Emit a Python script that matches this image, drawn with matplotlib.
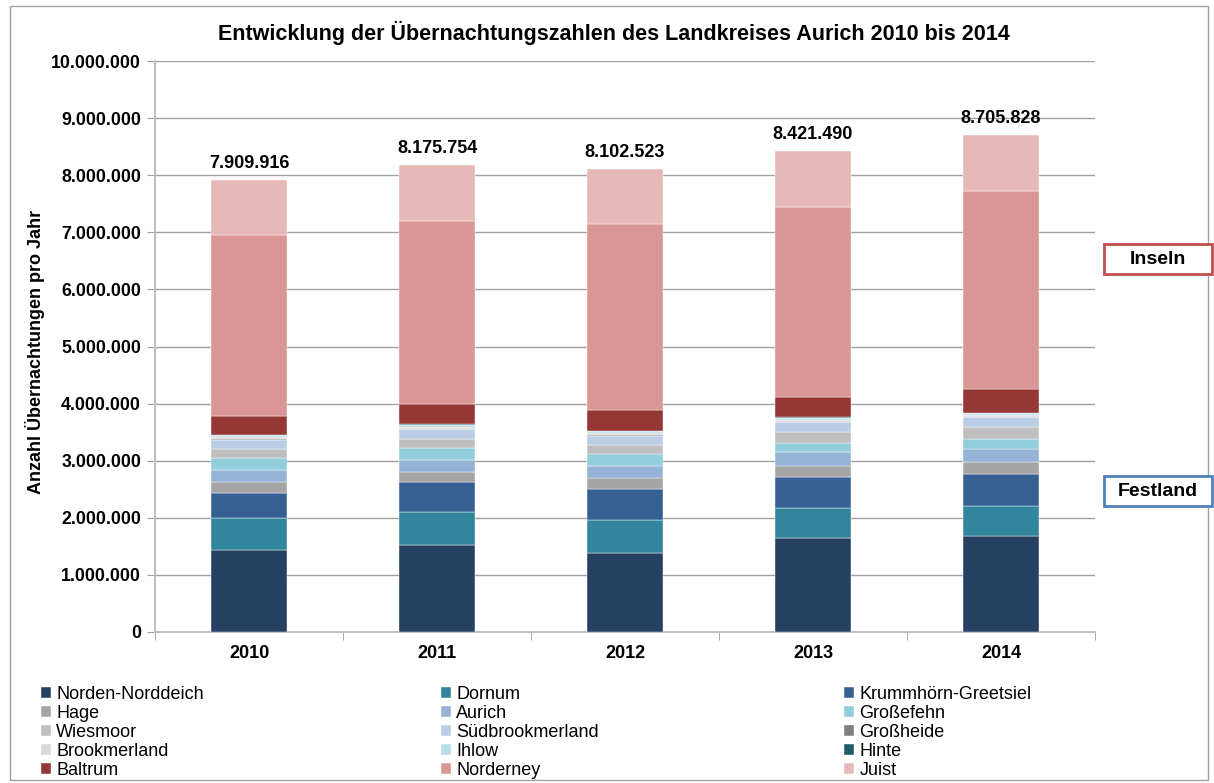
import matplotlib.pyplot as plt
import matplotlib.patches as mpatches
import numpy as np

plt.rcParams['font.family'] = ['Liberation Sans', 'DejaVu Sans']

years = ['2010', '2011', '2012', '2013', '2014']

places = ['Norden-Norddeich', 'Dornum', 'Krummhörn-Greetsiel', 'Hage', 'Aurich',
          'Großefehn', 'Wiesmoor', 'Südbrookmerland', 'Großheide', 'Brookmerland',
          'Ihlow', 'Hinte', 'Baltrum', 'Norderney', 'Juist']

# Übernachtungen pro Jahr (2010..2014)
norden = [1440000, 1526000, 1392000, 1649000, 1678000]
dornum = [555000, 579000, 561000, 526000, 527000]
krummhoern = [445000, 515000, 547000, 544000, 567000]
hage = [190000, 175000, 190000, 193000, 210000]
aurich = [210000, 222000, 222000, 234000, 217000]
grossefehn = [205000, 199000, 205000, 170000, 187000]
wiesmoor = [160000, 170000, 158000, 193000, 210000]
suedbrookmerland = [165000, 164000, 164000, 164000, 164000]
grossheide = [10000, 12000, 12000, 12000, 10000]
brookmerland = [35000, 35000, 35000, 35000, 32000]
ihlow = [30000, 30000, 30000, 30000, 30000]
hinte = [10000, 10000, 10000, 10000, 10000]
baltrum = [335000, 357000, 363000, 351000, 415000]
norderney = [3163000, 3205000, 3257000, 3339000, 3474000]
juist = [956916, 976754, 956523, 971490, 974828]

totals = [7909916, 8175754, 8102523, 8421490, 8705828]

colors = ['#254061', '#31859C', '#376092', '#A5A5A5', '#95B3D7',
          '#92CDDC', '#BFBFBF', '#B9CDE5', '#7F7F7F', '#D9D9D9',
          '#B7DEE8', '#215968', '#953735', '#D99694', '#E6B9B8']

series = [norden, dornum, krummhoern, hage, aurich, grossefehn, wiesmoor,
          suedbrookmerland, grossheide, brookmerland, ihlow, hinte,
          baltrum, norderney, juist]

W, H = 1214, 783


def fmt_de(v):
    return f'{int(round(v)):,}'.replace(',', '.')


fig = plt.figure(figsize=(W / 100, H / 100), dpi=100)
ax = fig.add_axes([155 / W, 1 - 632 / H, 940 / W, 571 / H])

x = np.arange(len(years))
bottom = np.zeros(len(years))
handles = []
for name, vals, col in zip(places, series, colors):
    b = ax.bar(x, vals, 0.40, bottom=bottom, color=col, label=name,
               edgecolor='white', linewidth=0.3, zorder=3)
    handles.append(b)
    bottom += np.array(vals)

for xi, tot, top in zip(x, totals, bottom):
    ax.text(xi, top + 140000, fmt_de(tot), ha='center', va='bottom',
            fontsize=13, fontweight='bold')

ax.set_xlim(-0.5, 4.5)
ax.set_ylim(0, 10000000)
ticks = np.arange(0, 10000001, 1000000)
ax.set_yticks(ticks)
ax.set_yticklabels([fmt_de(v) for v in ticks], fontsize=12.8, fontweight='bold')
ax.set_xticks(x)
ax.set_xticklabels(years, fontsize=13, fontweight='bold')
ax.set_xticks(np.arange(-0.5, 5, 1), minor=True)
ax.tick_params(axis='x', which='major', length=0, pad=9)
ax.tick_params(axis='x', which='minor', length=6, color='#A0A0A0', direction='out')
ax.tick_params(axis='y', length=6, color='#A0A0A0', pad=4)
ax.grid(axis='y', color='#A0A0A0', linewidth=1, zorder=0)
for s in ['top', 'right']:
    ax.spines[s].set_visible(False)
for s in ['left', 'bottom']:
    ax.spines[s].set_color('#BFBFBF')
    ax.spines[s].set_linewidth(1.5)

ax.set_ylabel('Anzahl Übernachtungen pro Jahr', fontsize=13, fontweight='bold')
ax.yaxis.set_label_coords(-110 / 940, 0.49)

fig.text(614 / W, 1 - 33 / H,
         'Entwicklung der Übernachtungszahlen des Landkreises Aurich 2010 bis 2014',
         ha='center', va='center', fontsize=15.5, fontweight='bold')

# Kästen rechts (Inseln / Festland)
for label, y0, y1, ec in [('Inseln', 244, 274, '#C0504D'),
                          ('Festland', 476, 506, '#4F81BD')]:
    fig.add_artist(mpatches.Rectangle((1104 / W, 1 - y1 / H), 108 / W, (y1 - y0) / H,
                                      transform=fig.transFigure, fc='white',
                                      ec=ec, lw=2, zorder=5))
    fig.text(1158 / W, 1 - (y0 + y1) / 2 / H, label, ha='center', va='center',
             fontsize=14, fontweight='bold', zorder=6)

# Legende in drei Spalten
col_x = [41 / W, 441 / W, 844 / W]
for c in range(3):
    idx = list(range(c, 15, 3))
    fig.legend([handles[i] for i in idx], [places[i] for i in idx],
               loc='upper left', bbox_to_anchor=(col_x[c], 1 - 686 / H),
               frameon=False, fontsize=13, handlelength=0.55, handleheight=0.55,
               handletextpad=0.3, labelspacing=0.11, borderpad=0, borderaxespad=0)

fig.add_artist(mpatches.Rectangle((10 / W, 3 / H), 1198 / W, 774 / H,
                                  transform=fig.transFigure, fill=False,
                                  ec='#A0A0A0', lw=1))

fig.savefig('out.png', dpi=100)
